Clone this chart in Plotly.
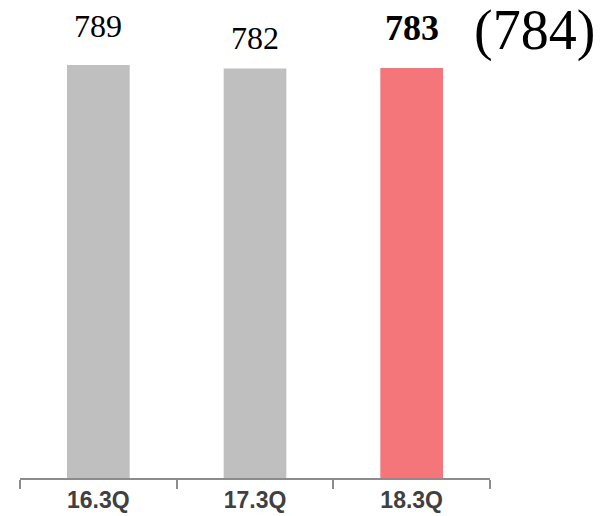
import plotly.graph_objects as go

categories = ["16.3Q", "17.3Q", "18.3Q"]
values = [789, 782, 783]
colors = ["#BFBFBF", "#BFBFBF", "#F4767B"]
label_texts = ["789", "782", "<b>783</b>"]
forecast_text = "(784)"

fig = go.Figure()
fig.add_trace(go.Bar(x=categories, y=values, marker=dict(color=colors, line=dict(width=0)),
                     width=0.4, hoverinfo="skip"))

shifts = [39, 31, 40]
sizes = [32, 32, 36]
for c, v, t, s, fs in zip(categories, values, label_texts, shifts, sizes):
    fig.add_annotation(x=c, y=v, text=t, showarrow=False, yshift=s, yanchor="middle",
                       font=dict(family="Liberation Serif", size=fs, color="#000000"))

fig.add_annotation(x=2, y=783, xshift=123, yshift=38, text=forecast_text, showarrow=False,
                   yanchor="middle", font=dict(family="Liberation Serif", size=56, color="#000000"))

fig.update_layout(
    width=601, height=516, margin=dict(l=20, r=111, t=0, b=38),
    plot_bgcolor="white", paper_bgcolor="white", showlegend=False,
    xaxis=dict(type="category", tickson="boundaries", ticks="outside", ticklen=9, tickwidth=2,
               tickcolor="#8C8C8C", showline=True, linecolor="#8C8C8C", linewidth=2,
               showgrid=False, tickfont=dict(family="Liberation Sans", size=23, color="#404040"),
               range=[-0.5, 2.5]),
    yaxis=dict(range=[0, 913], visible=False, showgrid=False),
)
fig.update_xaxes(tickprefix="<b>", ticksuffix="</b>")
fig.write_html("out.html")
